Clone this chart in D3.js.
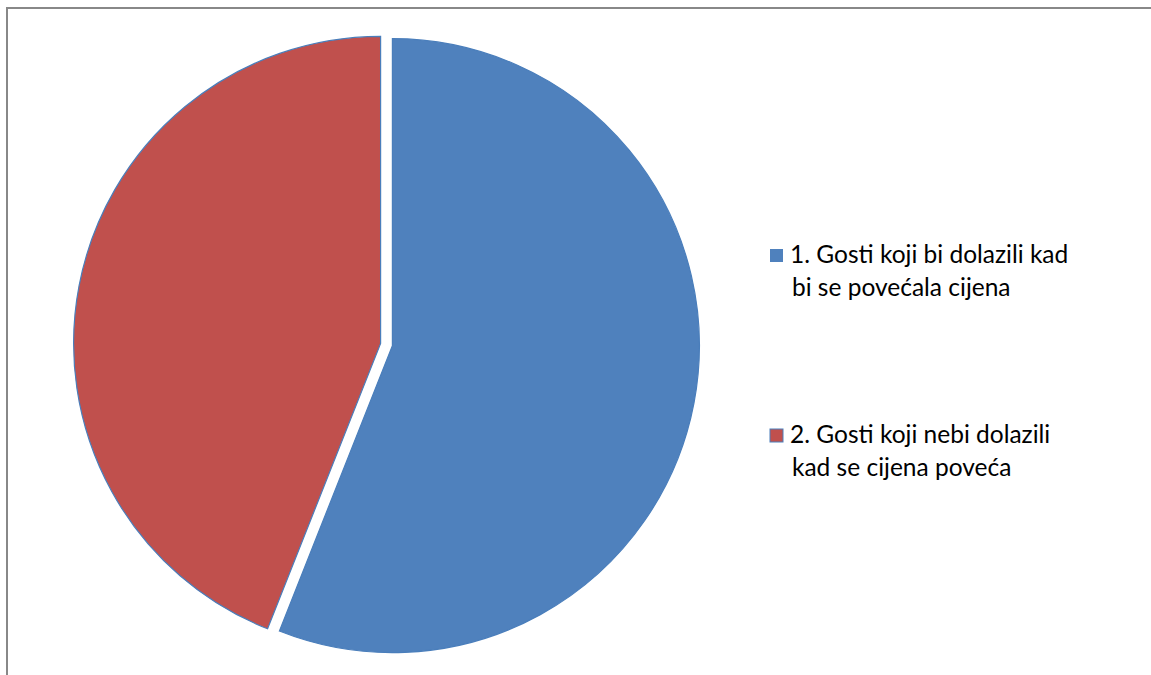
<!DOCTYPE html>
<html>
<head>
<meta charset="utf-8">
<script src="https://cdn.jsdelivr.net/npm/d3@7"></script>
<style>
  body { margin: 0; background: #fff; }
  svg { display: block; }
</style>
</head>
<body>
<svg id="chart" width="1151" height="675"></svg>
<script>
// Data
const categories = ["1. Gosti koji bi dolazili kad bi se povećala cijena",
                    "2. Gosti koji nebi dolazili kad se cijena poveća"]
const legendLines = [["1. Gosti koji bi dolazili kad", "bi se povećala cijena"],
                     ["2. Gosti koji nebi dolazili", "kad se cijena poveća"]]
const values = [56, 44]
const colors = ["#4F81BD", "#C0504D"]

const svg = d3.select("#chart")

// frame
svg.append("rect")
    .attr("x", 7).attr("y", 8)
    .attr("width", 1160).attr("height", 700)
    .attr("fill", "none")
    .attr("stroke", "#888")
    .attr("stroke-width", 2)

const cx = 386.5, cy = 344.5, r = 307, explode = 6

const pie = d3.pie().sort(null).value(d => d)
const arc = d3.arc().innerRadius(0).outerRadius(r)

svg.append("g")
    .selectAll("path")
    .data(pie(values))
    .join("path")
    .attr("transform", d => {
        const a = (d.startAngle + d.endAngle) / 2
        return "translate(" + (cx + explode * Math.sin(a)) + "," + (cy - explode * Math.cos(a)) + ")"
    })
    .attr("d", arc)
    .attr("fill", (d, i) => colors[i])
    .attr("stroke", "#4A7EBB")
    .attr("stroke-width", 1.2)

// legend
const legend = svg.append("g")
    .selectAll("g")
    .data(categories)
    .join("g")
    .attr("transform", (d, i) => "translate(770," + (249 + i * 180) + ")")

legend.append("rect")
    .attr("y", 0)
    .attr("width", 13).attr("height", 13)
    .attr("fill", (d, i) => colors[i])
    .attr("stroke", (d, i) => i === 1 ? "#4A7EBB" : "none")
    .attr("stroke-width", 1)

legend.each(function(d, i) {
    const g = d3.select(this)
    legendLines[i].forEach((line, j) => {
        g.append("text")
            .attr("x", j === 0 ? 20 : 22)
            .attr("y", 14 + j * 33)
            .attr("font-family", "Lato, 'Open Sans', sans-serif")
            .attr("font-size", 24.5)
            .attr("fill", "#000")
            .text(line)
    })
})
</script>
</body>
</html>
